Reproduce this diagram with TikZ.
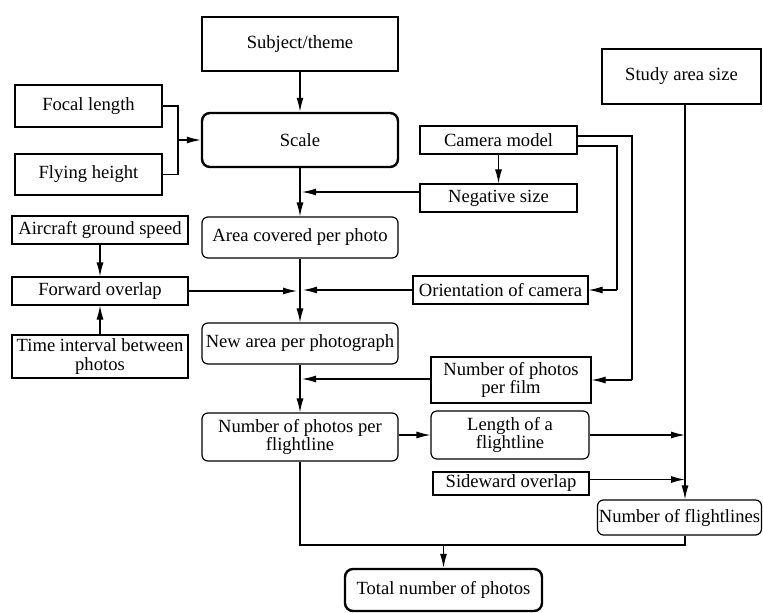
\documentclass[tikz,border=0pt]{standalone}
\usepackage{fontspec}
\setmainfont{Liberation Serif}
\usetikzlibrary{arrows.meta}
\begin{document}
\begin{tikzpicture}[x=1pt,y=-1pt,
  box/.style={draw, line width=1.2pt, inner sep=0pt, align=center, font=\fontsize{18.6}{18.5}\selectfont},
  rbox/.style={box, rounded corners=6pt},
  tbox/.style={box, line width=2.4pt, rounded corners=8pt},
  sbox/.style={box, line width=2.4pt},
  conn/.style={line width=1.2pt},
  arr/.style={conn, -{Latex[length=14pt,width=7pt]}}]
\useasboundingbox (0,0) rectangle (763,613);
% nodes
\node[sbox, minimum width=196, minimum height=54] (subj) at (300,44) {Subject/theme};
\node[box, minimum width=147, minimum height=42] (focal) at (88.5,106) {Focal length};
\node[box, minimum width=147, minimum height=41] (flying) at (88.5,174.5) {Flying height};
\node[tbox, minimum width=196, minimum height=54] (scale) at (300,140) {Scale};
\node[box, minimum width=157, minimum height=28] (camera) at (498.5,140) {Camera model};
\node[box, minimum width=157, minimum height=28] (neg) at (498.5,198) {Negative size};
\node[box, minimum width=159, minimum height=55] (study) at (681.5,76.5) {Study area size};
\node[rbox, minimum width=196, minimum height=41] (area) at (300,237.5) {Area covered per photo};
\node[box, minimum width=176, minimum height=28] (aircraft) at (100,230) {Aircraft ground speed};
\node[box, minimum width=176, minimum height=28] (forward) at (100,291) {Forward overlap};
\node[box, minimum width=176, minimum height=43] (time) at (100,356.5) {Time interval between\\photos};
\node[box, minimum width=175, minimum height=28] (orient) at (500.5,290) {Orientation of camera};
\node[rbox, minimum width=196, minimum height=41] (newarea) at (300,343.5) {New area per photograph};
\node[box, minimum width=160, minimum height=46] (film) at (511,380) {Number of photos\\per film};
\node[rbox, minimum width=196, minimum height=48] (npfl) at (300,437) {Number of photos per\\flightline};
\node[rbox, minimum width=158, minimum height=48] (length) at (510,435) {Length of a\\flightline};
\node[box, minimum width=156, minimum height=23] (side) at (511,483.5) {Sideward overlap};
\node[rbox, minimum width=164, minimum height=35] (nfl) at (679.5,517.5) {Number of flightlines};
\node[tbox, minimum width=197, minimum height=42] (total) at (443.5,590) {Total number of photos};
% helper coordinates
\coordinate (vx) at (685,0);
\coordinate (jx) at (178,0);
\coordinate (c1) at (632,0);
\coordinate (c2) at (617,0);
\coordinate (bus) at (0,545);
% connectors
\draw[arr] (subj) -- (scale);
\draw[conn] (focal.east) -| (jx |- flying.east) -- (flying.east);
\draw[arr] (jx |- scale.west) -- (scale.west);
\draw[arr] (scale) -- (area);
\draw[arr] ([yshift=6pt]neg.west) -- ([xshift=2pt,yshift=6pt]scale.south |- neg.west);
\draw[arr] (camera) -- (neg);
\draw[conn] ([yshift=4pt]camera.east) -- ([yshift=4pt]c1 |- camera.east) -- (c1 |- film.east);
\draw[arr] (c1 |- film.east) -- (film.east);
\draw[conn] ([yshift=-6pt]camera.east) -- ([yshift=-6pt]c2 |- camera.east) -- (c2 |- orient.east);
\draw[arr] (c2 |- orient.east) -- (orient.east);
\draw[arr] (aircraft) -- (forward);
\draw[arr] (time) -- (forward);
\draw[arr] (forward.east) -- ([xshift=-3pt]area.south |- forward.east);
\draw[arr] (orient.west) -- ([xshift=3pt]area.south |- orient.west);
\draw[arr] (area) -- (newarea);
\draw[arr] (newarea) -- (npfl);
\draw[arr] ([yshift=1pt]film.west) -- ([xshift=2pt,yshift=1pt]newarea.south |- film.west);
\draw[arr] (npfl.east |- length.west) -- (length.west);
\draw[arr] (length.east) -- (vx |- length.east);
\draw[arr] ([yshift=4pt]side.east) -- ([yshift=4pt]vx |- side.east);
\draw[arr] (vx |- study.south) -- (vx |- nfl.north);
\draw[conn] (npfl.south) -- (npfl.south |- bus) -- (vx |- bus) -- (vx |- nfl.south);
\draw[arr] (total.north |- bus) -- (total.north);
\end{tikzpicture}
\end{document}
